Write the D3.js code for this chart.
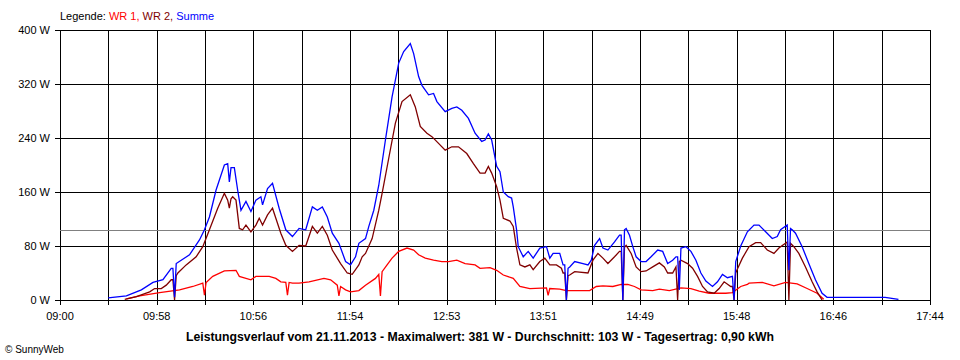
<!DOCTYPE html>
<html>
<head>
<meta charset="utf-8">
<script src="https://cdn.jsdelivr.net/npm/d3@7"></script>
<style>
  html, body { margin: 0; padding: 0; background: #fff; }
  svg { display: block; font-family: "Liberation Sans", Arial, sans-serif; }
</style>
</head>
<body>
<svg id="chart" width="960" height="360"></svg>
<script>
// ---------- DATA ----------
const xTickLabels = ["09:00","09:58","10:56","11:54","12:53","13:51","14:49","15:48","16:46","17:44"];
const yTicks = [0, 80, 160, 240, 320, 400];
const averageW = 103;
const legendNames = ["WR 1", "WR 2", "Summe"];
const titleText = "Leistungsverlauf vom 21.11.2013 - Maximalwert: 381 W - Durchschnitt: 103 W - Tagesertrag: 0,90 kWh";
const creditText = "\u00A9 SunnyWeb";

// WR 1 (red): [time, W]
const wr1 = [
  ["09:40",1.5],["09:48",6],["10:00",11],["10:12",15],["10:20",20],["10:26",25],["10:27",7],["10:28",26],
  ["10:32",35],["10:39",43],["10:46",44],["10:48",35],["10:55",30],["10:58",35],["11:06",35],["11:10",32],
  ["11:13",27],["11:16",26],["11:17",7],["11:18",26],["11:20",25],["11:24",25],["11:30",27],["11:39",32],
  ["11:43",30],["11:47",22],["11:48",6],["11:49",20],["11:52",15],["11:55",12],["12:00",14],["12:04",22],
  ["12:10",32],["12:12",38],["12:13",6],["12:14",42],["12:17",52],["12:20",62],["12:24",72],["12:29",77],
  ["12:33",74],["12:36",67],["12:40",62],["12:45",59],["12:50",57],["12:54",57],["12:59",59],["13:04",54],
  ["13:10",52],["13:13",47],["13:19",48],["13:23",44],["13:27",37],["13:33",32],["13:37",20],["13:43",17],
  ["13:53",18],["13:54",7],["13:55",17],["14:01",16],["14:05",14],["14:19",14],["14:23",20],["14:27",21],
  ["14:33",20],["14:38",23],["14:42",23],["14:46",20],["14:50",15],["14:57",14],["15:01",16],["15:07",14],
  ["15:14",18],["15:20",17],["15:25",13],["15:31",10],["15:41",10],["15:45",11],["15:50",20],["15:54",23],
  ["15:55",25],["16:03",26],["16:10",21],["16:17",26],["16:24",24],["16:30",17],["16:36",10],["16:40",1]
];

// WR 2 (dark red): [time, W]
const wr2 = [
  ["09:39",1],["09:46",5],["09:54",12],["09:57",17],["10:01",17],["10:04",22],["10:07",30],["10:08",30],
  ["10:09",0],["10:10",36],["10:11",40],["10:16",52],["10:22",64],["10:26",79],["10:30",104],["10:35",136],
  ["10:39",158],["10:41",148],["10:42",136],["10:43",150],["10:44",153],["10:46",148],["10:48",106],["10:50",104],
  ["10:52",111],["10:55",101],["10:58",111],["11:00",121],["11:02",111],["11:05",126],["11:08",136],["11:10",121],
  ["11:13",99],["11:16",81],["11:20",72],["11:24",81],["11:28",80],["11:32",109],["11:35",99],["11:38",109],
  ["11:41",96],["11:44",74],["11:49",54],["11:53",40],["11:56",38],["12:00",52],["12:02",64],["12:04",69],
  ["12:08",91],["12:12",133],["12:14",158],["12:18",210],["12:22",262],["12:26",294],["12:31",304],["12:34",286],
  ["12:37",257],["12:41",247],["12:44",242],["12:48",232],["12:52",222],["12:56",227],["13:00",227],["13:05",217],
  ["13:09",202],["13:13",188],["13:16",188],["13:18",198],["13:20",188],["13:23",168],["13:25",148],["13:27",121],
  ["13:31",117],["13:33",109],["13:35",77],["13:37",52],["13:40",49],["13:43",52],["13:45",45],["13:49",57],
  ["13:52",62],["13:55",52],["13:59",52],["14:02",47],["14:03",40],["14:04",40],["14:05",0],["14:06",36],
  ["14:07",37],["14:10",42],["14:18",40],["14:21",59],["14:24",69],["14:27",62],["14:30",54],["14:34",64],
  ["14:37",72],["14:38",72],["14:39",0],["14:40",78],["14:41",81],["14:44",69],["14:47",49],["14:50",42],
  ["14:53",43],["14:57",49],["15:01",55],["15:04",49],["15:06",40],["15:09",40],["15:11",49],["15:12",0],
  ["15:13",57],["15:14",59],["15:18",54],["15:21",47],["15:24",35],["15:27",20],["15:30",12],["15:34",10],
  ["15:37",17],["15:40",27],["15:44",20],["15:45",20],["15:46",0],["15:47",40],["15:48",46],["15:51",62],
  ["15:55",79],["15:59",85],["16:02",85],["16:06",74],["16:10",69],["16:13",77],["16:18",86],["16:19",0],
  ["16:20",84],["16:22",79],["16:25",69],["16:29",49],["16:33",27],["16:36",12],["16:39",0]
];

// Summe (blue): [time, W]
const summe = [
  ["09:29",3],["09:40",6],["09:49",15],["09:56",26],["10:02",30],["10:07",47],["10:08",47],["10:09",4],
  ["10:10",54],["10:18",67],["10:24",89],["10:27",104],["10:30",123],["10:34",163],["10:39",200],["10:41",202],
  ["10:42",175],["10:43",196],["10:45",196],["10:47",163],["10:49",133],["10:52",146],["10:55",131],["10:58",148],
  ["11:01",153],["11:02",141],["11:05",165],["11:08",173],["11:12",136],["11:16",104],["11:20",94],["11:24",106],
  ["11:28",104],["11:32",138],["11:35",133],["11:38",138],["11:41",123],["11:44",99],["11:48",84],["11:52",57],
  ["11:55",52],["11:58",64],["12:00",84],["12:04",91],["12:06",109],["12:09",133],["12:12",170],["12:16",237],
  ["12:20",301],["12:24",351],["12:27",368],["12:31",380],["12:33",365],["12:36",331],["12:38",318],["12:42",304],
  ["12:45",306],["12:47",294],["12:52",279],["12:56",284],["12:59",286],["13:02",281],["13:06",269],["13:10",247],
  ["13:14",235],["13:16",237],["13:18",246],["13:20",237],["13:23",198],["13:25",190],["13:27",160],["13:30",153],
  ["13:32",151],["13:33",138],["13:35",104],["13:36",79],["13:39",64],["13:42",72],["13:45",62],["13:49",77],
  ["13:53",79],["13:55",62],["13:57",69],["14:01",69],["14:03",52],["14:04",52],["14:05",0],["14:06",47],
  ["14:07",49],["14:10",57],["14:15",54],["14:18",52],["14:20",59],["14:22",81],["14:25",91],["14:27",77],
  ["14:30",74],["14:34",86],["14:37",96],["14:38",96],["14:39",0],["14:40",104],["14:41",106],["14:43",96],
  ["14:45",79],["14:47",64],["14:50",57],["14:53",57],["14:56",64],["15:00",74],["15:03",72],["15:06",54],
  ["15:09",59],["15:11",64],["15:12",64],["15:13",15],["15:14",77],["15:17",79],["15:20",72],["15:23",59],
  ["15:26",40],["15:29",28],["15:33",20],["15:36",27],["15:39",38],["15:42",33],["15:45",35],["15:46",0],
  ["15:47",57],["15:50",80],["15:54",101],["15:58",111],["16:01",111],["16:05",101],["16:09",91],["16:12",94],
  ["16:14",104],["16:18",111],["16:19",44],["16:20",106],["16:21",104],["16:23",99],["16:27",79],["16:31",54],
  ["16:35",30],["16:39",10],["16:42",4],["17:17",4],["17:21",2.5],["17:25",1]
];

// ---------- CHART ----------
const svg = d3.select("#chart");
const pLeft = 60, pRight = 930, pTop = 30, pBottom = 300;
const toMin = s => { const [h, m] = s.split(":").map(Number); return h * 60 + m; };
const tStart = toMin(xTickLabels[0]), tEnd = toMin(xTickLabels[xTickLabels.length - 1]);

const x = d3.scaleLinear().domain([tStart, tEnd]).range([pLeft, pRight]);
const y = d3.scaleLinear().domain([0, 400]).range([pBottom, pTop]);

// grid positions: label ticks evenly spaced, plus a gridline half-way between
const nInt = xTickLabels.length - 1;
const labelPos = xTickLabels.map((_, i) => tStart + i * (tEnd - tStart) / nInt);
const gridPos = d3.range(0, nInt * 2 + 1).map(i => tStart + i * (tEnd - tStart) / (nInt * 2));

// vertical grid (with tick extension below the axis)
const vGrid = svg.append("g")
  .attr("transform", `translate(0,${pBottom + 5})`)
  .call(d3.axisBottom(x).tickValues(gridPos).tickSize(-(pBottom + 5 - pTop)).tickFormat(""));
vGrid.select(".domain").remove();
vGrid.selectAll(".tick line").attr("stroke", "#000").attr("shape-rendering", "crispEdges");

// horizontal grid (with tick extension left of the axis)
const hGrid = svg.append("g")
  .attr("transform", `translate(${pLeft - 5},0)`)
  .call(d3.axisLeft(y).tickValues(yTicks).tickSize(-(pRight - pLeft + 5)).tickFormat(""));
hGrid.select(".domain").remove();
hGrid.selectAll(".tick line").attr("stroke", "#000").attr("shape-rendering", "crispEdges");

// y labels
svg.append("g").selectAll("text").data(yTicks).join("text")
  .attr("x", pLeft - 10).attr("y", d => y(d)).attr("dy", "0.35em")
  .attr("text-anchor", "end").attr("font-size", 11).attr("fill", "#000")
  .text(d => d + " W");

// x labels
svg.append("g").selectAll("text").data(xTickLabels).join("text")
  .attr("x", (d, i) => x(labelPos[i])).attr("y", pBottom + 20)
  .attr("text-anchor", "middle").attr("font-size", 11).attr("fill", "#000")
  .text(d => d);

// average reference line
svg.append("line")
  .attr("x1", pLeft).attr("x2", pRight)
  .attr("y1", Math.round(y(averageW)) + 0.5).attr("y2", Math.round(y(averageW)) + 0.5)
  .attr("stroke", "#808080").attr("stroke-width", 1);

// series lines
const line = d3.line().x(d => x(toMin(d[0]))).y(d => y(d[1]));
const series = [
  { data: wr1, color: "#ff0000" },
  { data: wr2, color: "#800000" },
  { data: summe, color: "#0000ff" }
];
svg.append("g").selectAll("path").data(series).join("path")
  .attr("d", d => line(d.data))
  .attr("fill", "none")
  .attr("stroke", d => d.color)
  .attr("stroke-width", 1.3)
  .attr("stroke-linejoin", "miter");

// legend
const legend = svg.append("text").attr("x", pLeft).attr("y", 20).attr("font-size", 11);
legend.append("tspan").attr("fill", "#000").text("Legende: ");
legend.append("tspan").attr("fill", "#ff0000").text(legendNames[0] + ", ");
legend.append("tspan").attr("fill", "#800000").text(legendNames[1] + ", ");
legend.append("tspan").attr("fill", "#0000ff").text(legendNames[2]);

// title
svg.append("text").attr("x", 480).attr("y", 341).attr("text-anchor", "middle")
  .attr("font-size", 12.25).attr("font-weight", "bold").attr("fill", "#000")
  .text(titleText);

// credit
svg.append("text").attr("x", 5).attr("y", 353).attr("font-size", 10).attr("fill", "#000")
  .text(creditText);
</script>
</body>
</html>
